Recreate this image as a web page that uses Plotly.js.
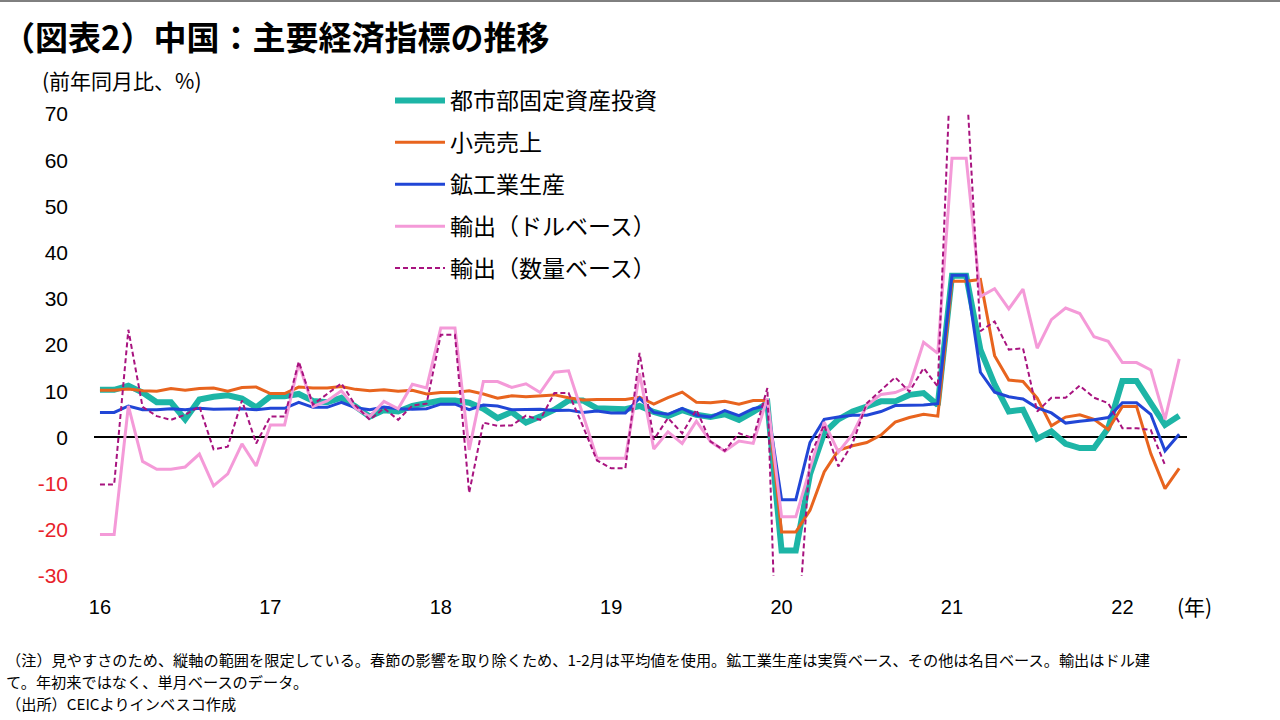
<!DOCTYPE html>
<html>
<head>
<meta charset="utf-8">
<script src="https://cdn.plot.ly/plotly-3.0.1.min.js"></script>
<style>
html,body{margin:0;padding:0;background:#fff;}
#chart{width:1280px;height:720px;}
</style>
</head>
<body>
<div id="chart"></div>
<script>
// Months: Jan 2016 ... May 2022 (index 0 = 2016-01)
const yearTicks = ["16","17","18","19","20","21","22"];

const seriesNames = ["都市部固定資産投資","小売売上","鉱工業生産","輸出（ドルベース）","輸出（数量ベース）"];

const fai = [
 10.3, 10.3, 11.2, 9.7, 7.6, 7.6, 3.9, 8.2, 8.8, 9.1, 8.4, 6.5,
 8.9, 8.9, 9.4, 7.9, 7.6, 8.6, 6.7, 4.5, 5.9, 5.6, 6.8, 7.3,
 8.0, 8.0, 7.5, 6.2, 4.2, 5.5, 3.2, 4.5, 6.0, 8.0, 8.0, 6.3,
 6.1, 6.1, 6.8, 5.5, 4.6, 5.9, 4.9, 4.4, 5.0, 3.8, 5.5, 7.4,
 -24.5, -24.5, -8.0, 1.0, 3.9, 5.6, 6.7, 7.8, 7.8, 9.2, 9.6, 7.0,
 35.0, 35.0, 19.0, 11.5, 5.6, 6.0, -0.3, 1.3, -1.4, -2.3, -2.3, 2.0,
 12.2, 12.2, 7.4, 2.7, 4.7
];

const retail = [
 10.2, 10.2, 10.5, 10.1, 10.0, 10.6, 10.2, 10.6, 10.7, 10.0, 10.8, 10.9,
 9.5, 9.5, 10.9, 10.7, 10.7, 11.0, 10.4, 10.1, 10.3, 10.0, 10.2, 9.4,
 9.7, 9.7, 10.1, 9.4, 8.5, 9.0, 8.8, 9.0, 9.2, 8.6, 8.1, 8.2,
 8.2, 8.2, 8.7, 7.2, 8.6, 9.8, 7.6, 7.5, 7.8, 7.2, 8.0, 8.0,
 -20.5, -20.5, -15.8, -7.5, -2.8, -1.8, -1.1, 0.5, 3.3, 4.3, 5.0, 4.6,
 33.8, 33.8, 34.2, 17.7, 12.4, 12.1, 8.5, 2.5, 4.4, 4.9, 3.9, 1.7,
 6.7, 6.7, -3.5, -11.1, -6.7
];

const industrial = [
 5.4, 5.4, 6.8, 6.0, 6.0, 6.2, 6.0, 6.3, 6.1, 6.1, 6.2, 6.0,
 6.3, 6.3, 7.6, 6.5, 6.5, 7.6, 6.4, 6.0, 6.6, 6.2, 6.1, 6.2,
 7.2, 7.2, 6.0, 7.0, 6.8, 6.0, 6.0, 6.1, 5.8, 5.9, 5.4, 5.7,
 5.3, 5.3, 8.5, 5.4, 5.0, 6.3, 4.8, 4.4, 5.8, 4.7, 6.2, 6.9,
 -13.5, -13.5, -1.1, 3.9, 4.4, 4.8, 4.8, 5.6, 6.9, 6.9, 7.0, 7.3,
 35.1, 35.1, 14.1, 9.8, 8.8, 8.3, 6.4, 5.3, 3.1, 3.5, 3.8, 4.3,
 7.5, 7.5, 5.0, -2.9, 0.7
];

const exportsUsd = [
 -21.0, -21.0, 6.8, -5.2, -6.9, -6.9, -6.4, -3.6, -10.5, -7.9, -1.4, -6.2,
 2.7, 2.7, 16.0, 6.7, 7.9, 10.1, 6.3, 4.5, 7.8, 6.2, 11.5, 10.7,
 23.7, 23.7, -2.7, 12.1, 12.1, 10.8, 11.6, 9.7, 14.1, 14.4, 5.0, -4.5,
 -4.5, -4.5, 13.9, -2.5, 1.2, -1.3, 3.5, -0.9, -3.0, -0.8, -1.3, 8.5,
 -17.2, -17.2, -6.8, 3.3, -3.2, 0.7, 6.9, 9.3, 9.7, 11.0, 20.6, 18.2,
 60.4, 60.4, 30.5, 32.2, 27.8, 32.1, 19.3, 25.5, 28.0, 26.8, 21.8, 20.8,
 16.2, 16.2, 14.6, 3.9, 17.0
];

const exportsVolume = [
 -10.2, -10.2, 23.3, 6.6, 4.6, 3.8, 4.9, 6.7, -2.6, -2.0, 8.0, -1.3,
 4.5, 4.5, 16.4, 7.1, 9.4, 11.7, 6.9, 3.8, 6.3, 3.8, 6.9, 7.3,
 22.2, 22.2, -12.0, 3.2, 2.5, 2.6, 4.7, 3.8, 9.6, 9.6, 2.5, -5.0,
 -6.7, -6.7, 18.3, -0.5, 4.2, 0.9, 6.0, -0.9, -2.9, 0.9, -0.2, 10.7,
 -84, -49, -4.0, 2.7, -6.3, -1.3, 7.4, 10.3, 13.0, 9.9, 15.0, 11.0,
 88, 78, 23.0, 25.1, 19.0, 19.3, 5.6, 8.6, 8.6, 11.2, 8.6, 7.4,
 2.0, 2.0, 1.6, -6.0
];

const yTickVals = [70, 60, 50, 40, 30, 20, 10, 0, -10, -20, -30];

const noteLines = [
  "（注）見やすさのため、縦軸の範囲を限定している。春節の影響を取り除くため、1-2月は平均値を使用。鉱工業生産は実質ベース、その他は名目ベース。輸出はドル建",
  "て。年初来ではなく、単月ベースのデータ。",
  "（出所）CEICよりインベスコ作成"
];

const idx = arr => arr.map((_, i) => i);

const FONT = "Liberation Sans, Arial, 'Noto Sans CJK JP', sans-serif";
const JFONT = "'Noto Sans CJK JP', 'Liberation Sans', sans-serif";

const colors = ["#1DB5A6", "#E8641E", "#2146D6", "#F49AD8", "#A8137F"];
const widths = [6, 3, 3, 3, 2];
const dashes = ["solid","solid","solid","solid","5px,3px"];
const series = [fai, retail, industrial, exportsUsd, exportsVolume];

const traces = series.map((s, k) => ({
  type: "scatter",
  mode: "lines",
  x: idx(s),
  y: s,
  name: seriesNames[k],
  legendgroup: "g" + k,
  line: {color: colors[k], width: widths[k], dash: dashes[k]},
  hoverinfo: "skip"
}));

const plotL = 94, plotR = 1187, plotT = 114, plotB = 576;
const W = 1280, H = 720;
const px = x => (x - plotL) / (plotR - plotL);
const py = y => (plotB - y) / (plotB - plotT);

const yTickText = yTickVals.map(v => v < 0 ? '<span style="color:#E8222A">' + v + '</span>' : String(v));

const noteY = [659, 681, 703];
const noteAnnots = noteLines.map((t, i) => ({
  text: t,
  xref: "paper", yref: "paper",
  x: px(4), y: py(noteY[i]), xanchor: "left", yanchor: "middle",
  align: "left",
  showarrow: false,
  font: {family: JFONT, size: 15.2, color: "#000"}
}));

const layout = {
  width: W, height: H,
  margin: {l: plotL, r: W - plotR, t: plotT, b: H - plotB, pad: 0},
  paper_bgcolor: "#fff",
  plot_bgcolor: "#fff",
  showlegend: true,
  title: {
    text: "（図表2）中国：主要経済指標の推移",
    font: {family: JFONT, size: 33, color: "#000", weight: "bold"},
    x: 2 / W, xanchor: "left", xref: "container",
    y: 1 - 38 / H, yanchor: "middle", yref: "container"
  },
  xaxis: {
    range: [-0.42, 76.55],
    tickvals: yearTicks.map((_, i) => i * 12),
    ticktext: yearTicks,
    showgrid: false, zeroline: false, showline: false,
    ticks: "",
    ticklabelstandoff: 17,
    tickfont: {family: FONT, size: 20, color: "#000"},
    fixedrange: true
  },
  yaxis: {
    range: [-30, 70],
    tickvals: yTickVals,
    ticktext: yTickText,
    showgrid: false,
    zeroline: true, zerolinecolor: "#000", zerolinewidth: 2,
    showline: false, ticks: "",
    ticklabelstandoff: 25,
    tickfont: {family: FONT, size: 21, color: "#000"},
    fixedrange: true
  },
  legend: {
    x: px(390), xanchor: "left",
    y: py(79), yanchor: "top",
    font: {family: JFONT, size: 23, color: "#000"},
    bgcolor: "rgba(255,255,255,0)",
    tracegroupgap: 9,
    itemwidth: 50,
    traceorder: "grouped"
  },
  annotations: [
    {
      text: "(前年同月比、%)",
      xref: "paper", yref: "paper",
      x: px(40), y: py(80), xanchor: "left", yanchor: "middle",
      showarrow: false,
      font: {family: JFONT, size: 21, color: "#000"}
    },
    {
      text: "(年)",
      xref: "paper", yref: "paper",
      x: px(1175), y: py(606), xanchor: "left", yanchor: "middle",
      showarrow: false,
      font: {family: JFONT, size: 21, color: "#000"}
    }
  ].concat(noteAnnots),
  shapes: [
    {
      type: "line", xref: "paper", yref: "paper",
      x0: px(0), x1: px(W), y0: py(1), y1: py(1),
      line: {color: "#000", width: 1}
    }
  ]
};

Plotly.newPlot("chart", traces, layout, {displayModeBar: false, staticPlot: true});
</script>
</body>
</html>
